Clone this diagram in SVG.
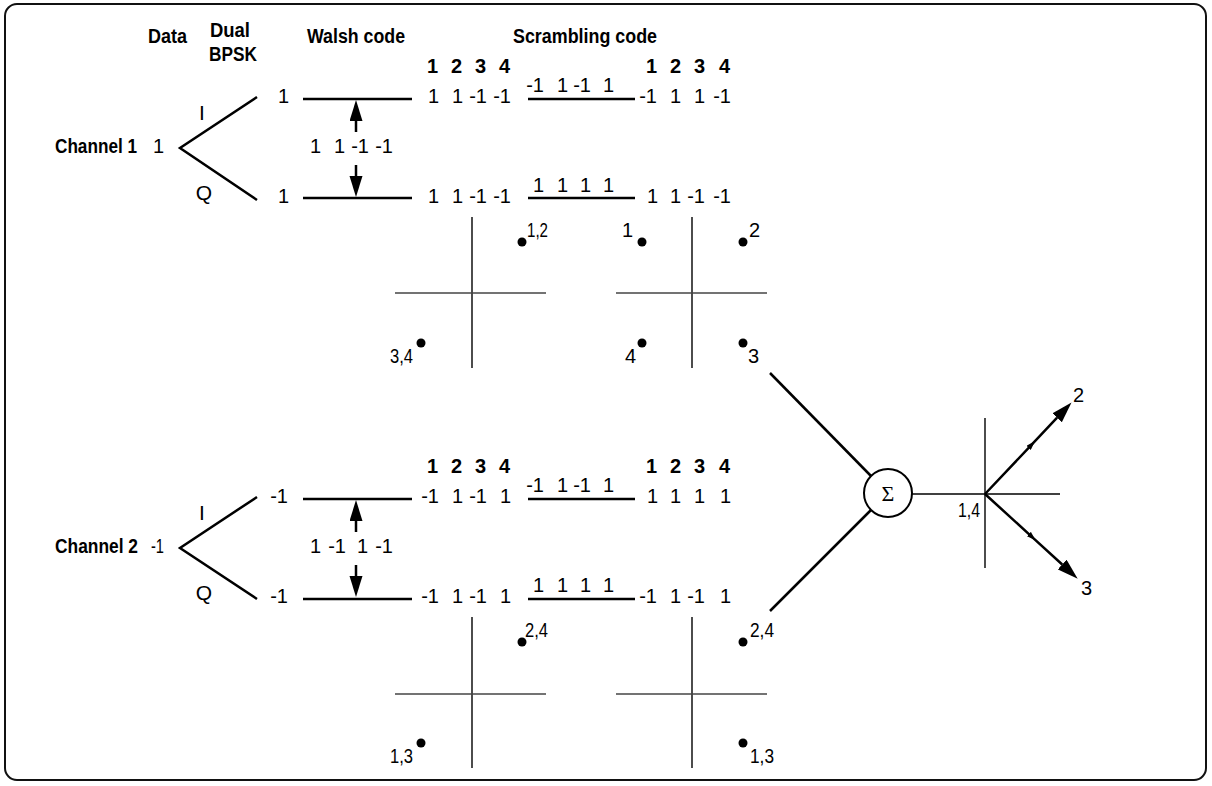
<svg xmlns="http://www.w3.org/2000/svg" width="1212" height="786" viewBox="0 0 1212 786">
<style>
text{font-family:'Liberation Sans','Arimo',sans-serif;font-size:20px;fill:#000}
.b{font-weight:bold}
.h{font-size:20px}
.n{text-anchor:end}
.m{text-anchor:middle}
.iq{font-size:21px}
.sig{font-family:'Liberation Serif','DejaVu Serif',serif;font-size:22px}
.thick{stroke:#000;stroke-width:2.5;fill:none}
.axis{stroke:#000;stroke-width:1.4;fill:none}
.axisg{stroke:#444;stroke-width:1.6;fill:none}
.dot{fill:#000}
</style>
<defs>
<marker id="head" markerUnits="userSpaceOnUse" markerWidth="22" markerHeight="14" refX="0" refY="6.5" orient="auto"><path d="M0,0 L21,6.5 L0,13 z" fill="#000"/></marker>
<marker id="small" markerUnits="userSpaceOnUse" markerWidth="10" markerHeight="6" refX="4.5" refY="3" orient="auto"><path d="M0,0 L9,3 L0,6 z" fill="#000"/></marker>
</defs>
<rect x="5" y="4" width="1201" height="776" rx="12" ry="12" fill="#fff" stroke="#111" stroke-width="2"/>

<g id="headers">
<text class="b h" x="148" y="43" textLength="39" lengthAdjust="spacingAndGlyphs">Data</text>
<text class="b h" x="210" y="37" textLength="40" lengthAdjust="spacingAndGlyphs">Dual</text>
<text class="b h" x="209" y="61" textLength="48" lengthAdjust="spacingAndGlyphs">BPSK</text>
<text class="b h" x="307" y="43" textLength="98" lengthAdjust="spacingAndGlyphs">Walsh code</text>
<text class="b h" x="513" y="43" textLength="144" lengthAdjust="spacingAndGlyphs">Scrambling code</text>
</g>

<g id="channel1">
<text class="b" x="55" y="153" font-size="19" textLength="82" lengthAdjust="spacingAndGlyphs">Channel 1</text>
<text class="n" x="164" y="153">1</text>
<text class="iq m" x="202" y="120">I</text>
<text class="iq m" x="204" y="200">Q</text>
<text class="n" x="289" y="103">1</text>
<text class="n" x="289" y="203">1</text>
<text class="n"><tspan x="321" y="153">1</tspan><tspan x="345" y="153">1</tspan><tspan x="369" y="153">-1</tspan><tspan x="393" y="153">-1</tspan></text>
<text class="b n"><tspan x="438" y="73">1</tspan><tspan x="462" y="73">2</tspan><tspan x="486" y="73">3</tspan><tspan x="510" y="73">4</tspan><tspan x="657" y="73">1</tspan><tspan x="681" y="73">2</tspan><tspan x="705" y="73">3</tspan><tspan x="730" y="73">4</tspan></text>
<text class="n"><tspan x="439" y="103">1</tspan><tspan x="463" y="103">1</tspan><tspan x="487" y="103">-1</tspan><tspan x="511" y="103">-1</tspan></text>
<text class="n"><tspan x="544" y="92">-1</tspan><tspan x="568" y="92">1</tspan><tspan x="591" y="92">-1</tspan><tspan x="614" y="92">1</tspan></text>
<text class="n"><tspan x="657" y="103">-1</tspan><tspan x="681" y="103">1</tspan><tspan x="705" y="103">1</tspan><tspan x="731" y="103">-1</tspan></text>
<text class="n"><tspan x="439" y="203">1</tspan><tspan x="463" y="203">1</tspan><tspan x="487" y="203">-1</tspan><tspan x="511" y="203">-1</tspan></text>
<text class="n"><tspan x="544" y="192">1</tspan><tspan x="568" y="192">1</tspan><tspan x="591" y="192">1</tspan><tspan x="614" y="192">1</tspan></text>
<text class="n"><tspan x="658" y="203">1</tspan><tspan x="681" y="203">1</tspan><tspan x="705" y="203">-1</tspan><tspan x="731" y="203">-1</tspan></text>
</g>

<g id="channel2">
<text class="b" x="55" y="553" font-size="19" textLength="83" lengthAdjust="spacingAndGlyphs">Channel 2</text>
<text x="151" y="553" textLength="13" lengthAdjust="spacingAndGlyphs">-1</text>
<text class="iq m" x="202" y="520">I</text>
<text class="iq m" x="204" y="600">Q</text>
<text class="n" x="288" y="503">-1</text>
<text class="n" x="288" y="603">-1</text>
<text class="n"><tspan x="321" y="553">1</tspan><tspan x="346" y="553">-1</tspan><tspan x="368" y="553">1</tspan><tspan x="393" y="553">-1</tspan></text>
<text class="b n"><tspan x="438" y="473">1</tspan><tspan x="462" y="473">2</tspan><tspan x="486" y="473">3</tspan><tspan x="510" y="473">4</tspan><tspan x="657" y="473">1</tspan><tspan x="681" y="473">2</tspan><tspan x="705" y="473">3</tspan><tspan x="730" y="473">4</tspan></text>
<text class="n"><tspan x="439" y="503">-1</tspan><tspan x="463" y="503">1</tspan><tspan x="487" y="503">-1</tspan><tspan x="511" y="503">1</tspan></text>
<text class="n"><tspan x="544" y="492">-1</tspan><tspan x="568" y="492">1</tspan><tspan x="591" y="492">-1</tspan><tspan x="614" y="492">1</tspan></text>
<text class="n"><tspan x="658" y="503">1</tspan><tspan x="681" y="503">1</tspan><tspan x="705" y="503">1</tspan><tspan x="731" y="503">1</tspan></text>
<text class="n"><tspan x="439" y="603">-1</tspan><tspan x="463" y="603">1</tspan><tspan x="487" y="603">-1</tspan><tspan x="511" y="603">1</tspan></text>
<text class="n"><tspan x="544" y="592">1</tspan><tspan x="568" y="592">1</tspan><tspan x="591" y="592">1</tspan><tspan x="614" y="592">1</tspan></text>
<text class="n"><tspan x="657" y="603">-1</tspan><tspan x="681" y="603">1</tspan><tspan x="705" y="603">-1</tspan><tspan x="731" y="603">1</tspan></text>
</g>

<g id="const1a">
<line class="axis" x1="472" y1="217" x2="472" y2="368"/>
<line class="axisg" x1="395" y1="293" x2="546" y2="293"/>
<circle class="dot" cx="522" cy="242" r="4.5"/>
<circle class="dot" cx="421" cy="343" r="4.5"/>
<text x="527" y="237" textLength="21" lengthAdjust="spacingAndGlyphs">1,2</text>
<text x="390" y="363" textLength="23" lengthAdjust="spacingAndGlyphs">3,4</text>
</g>
<g id="const1b">
<line class="axis" x1="692" y1="217" x2="692" y2="368"/>
<line class="axisg" x1="616" y1="293" x2="767" y2="293"/>
<circle class="dot" cx="642" cy="242" r="4.5"/>
<circle class="dot" cx="743" cy="242" r="4.5"/>
<circle class="dot" cx="642" cy="343" r="4.5"/>
<circle class="dot" cx="743" cy="343" r="4.5"/>
<text class="n" x="633" y="237">1</text>
<text x="749" y="237">2</text>
<text class="n" x="636" y="363">4</text>
<text x="748" y="363">3</text>
</g>
<g id="const2a">
<line class="axis" x1="472" y1="617" x2="472" y2="768"/>
<line class="axisg" x1="395" y1="694" x2="546" y2="694"/>
<circle class="dot" cx="522" cy="642" r="4.5"/>
<circle class="dot" cx="421" cy="743" r="4.5"/>
<text x="525" y="637" textLength="23" lengthAdjust="spacingAndGlyphs">2,4</text>
<text x="390" y="763" textLength="23" lengthAdjust="spacingAndGlyphs">1,3</text>
</g>
<g id="const2b">
<line class="axis" x1="692" y1="617" x2="692" y2="768"/>
<line class="axisg" x1="616" y1="694" x2="767" y2="694"/>
<circle class="dot" cx="743" cy="642" r="4.5"/>
<circle class="dot" cx="743" cy="743" r="4.5"/>
<text x="750" y="637" textLength="24" lengthAdjust="spacingAndGlyphs">2,4</text>
<text x="750" y="763" textLength="24" lengthAdjust="spacingAndGlyphs">1,3</text>
</g>

<g id="sum">
<circle cx="888" cy="493" r="24" fill="#fff" stroke="#000" stroke-width="2"/>
<text class="sig m" x="888" y="501">Σ</text>
</g>

<g id="result">
<line class="axis" x1="985" y1="418" x2="985" y2="568"/>
<text x="958" y="517" textLength="22" lengthAdjust="spacingAndGlyphs">1,4</text>
<text x="1073" y="402">2</text>
<text x="1081" y="595">3</text>
</g>

<g id="connectors">
<polyline class="thick" points="257,97 180,148 257,200"/>
<polyline class="thick" points="257,497 180,548 257,599"/>
<line class="thick" x1="303" y1="99" x2="412" y2="99"/>
<line class="thick" x1="303" y1="198" x2="412" y2="198"/>
<line class="thick" x1="303" y1="499" x2="412" y2="499"/>
<line class="thick" x1="303" y1="599" x2="412" y2="599"/>
<line class="thick" x1="528" y1="99" x2="635" y2="99"/>
<line class="thick" x1="528" y1="198" x2="635" y2="198"/>
<line class="thick" x1="528" y1="499" x2="635" y2="499"/>
<line class="thick" x1="528" y1="599" x2="635" y2="599"/>
<line class="thick" x1="356" y1="132" x2="356" y2="121" marker-end="url(#head)"/>
<line class="thick" x1="356" y1="165" x2="356" y2="176" marker-end="url(#head)"/>
<line class="thick" x1="356" y1="532" x2="356" y2="521" marker-end="url(#head)"/>
<line class="thick" x1="356" y1="565" x2="356" y2="576" marker-end="url(#head)"/>
<line class="thick" x1="770" y1="373" x2="871" y2="476"/>
<line class="thick" x1="770" y1="611" x2="871" y2="510"/>
<line class="axis" x1="912" y1="494" x2="1060" y2="494"/>
<path class="thick" d="M985,494 L1031.7,444.6 L1057.1,417.7" marker-mid="url(#small)" marker-end="url(#head)"/>
<path class="thick" d="M985,494 L1032.2,537.1 L1062.2,564.5" marker-mid="url(#small)" marker-end="url(#head)"/>
</g>
</svg>
